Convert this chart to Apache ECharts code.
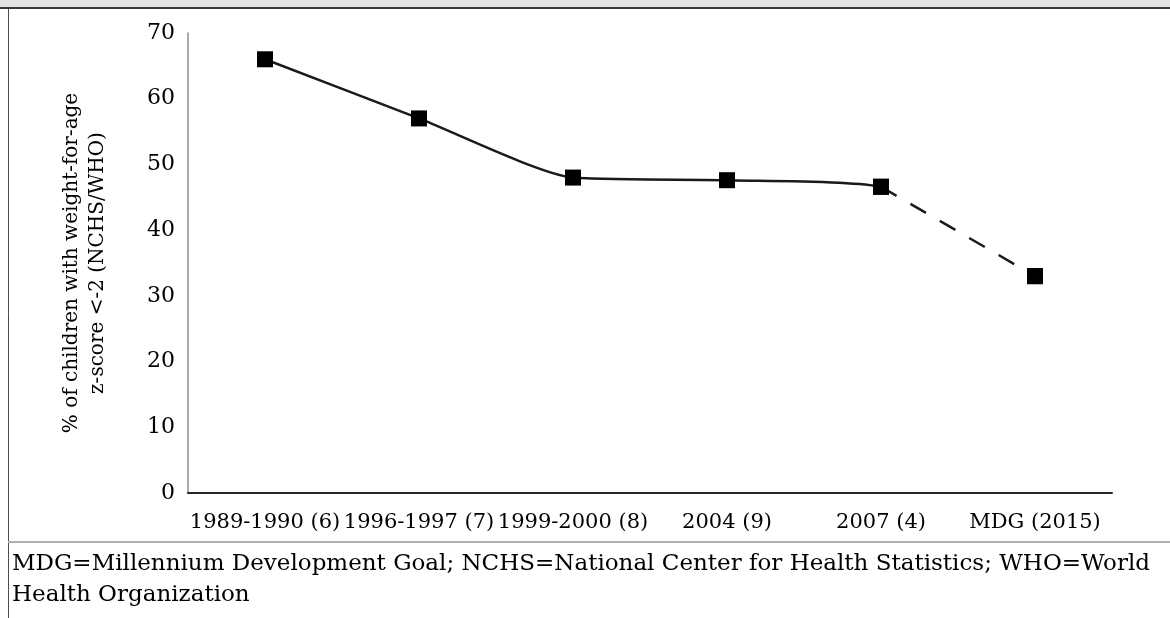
<!DOCTYPE html>
<html>
<head>
<meta charset="utf-8">
<script src="https://cdn.jsdelivr.net/npm/echarts@6/dist/echarts.min.js"></script>
<style>
html,body{margin:0;padding:0;background:#fff;}
#chart{width:1170px;height:618px;}
</style>
</head>
<body>
<div id="chart"></div>
<script>
// ---- data ----
const categories = ['1989-1990 (6)', '1996-1997 (7)', '1999-2000 (8)', '2004 (9)', '2007 (4)', 'MDG (2015)'];
const observed = [66, 57, 48, 47.6, 46.6];   // survey values
const mdgTarget = 33;                         // MDG 2015 goal
const yTicks = [0, 10, 20, 30, 40, 50, 60, 70];
const yTitle = ['% of children with weight-for-age', 'z-score <-2 (NCHS/WHO)'];
const footnote = ['MDG=Millennium Development Goal; NCHS=National Center for Health Statistics; WHO=World', 'Health Organization'];

// full smoothed curve; its stroke is visible only up to the last survey point
const allData = observed.concat([mdgTarget]);
const dashedData = categories.map((c, i) => {
  if (i === observed.length - 1) return observed[i];
  if (i === categories.length - 1) return mdgTarget;
  return '-';
});
const solidFrac = (observed.length - 1) / (allData.length - 1);

const FONT = 'DejaVu Serif';
const chart = echarts.init(document.getElementById('chart'), null, {renderer: 'canvas'});
chart.setOption({
  animation: false,
  backgroundColor: '#fff',
  grid: {left: 188, right: 58, top: 33, bottom: 125, containLabel: false},
  xAxis: {
    type: 'category',
    data: categories,
    boundaryGap: true,
    axisLine: {lineStyle: {color: '#262626', width: 2}},
    axisTick: {show: false},
    axisLabel: {color: '#000', fontFamily: FONT, fontSize: 21, margin: 19, interval: 0}
  },
  yAxis: {
    type: 'value',
    min: yTicks[0], max: yTicks[yTicks.length - 1], interval: 10,
    name: yTitle.join('\n'),
    nameLocation: 'middle',
    nameRotate: 90,
    nameGap: 77,
    nameTextStyle: {color: '#000', fontFamily: FONT, fontSize: 20, lineHeight: 26},
    axisLine: {show: true, lineStyle: {color: '#8c8c8c', width: 1.5}},
    axisTick: {show: false},
    splitLine: {show: false},
    axisLabel: {color: '#000', fontFamily: FONT, fontSize: 22, margin: 13}
  },
  series: [
    {
      type: 'line', data: allData, smooth: 0.2,
      symbol: 'rect', symbolSize: 16,
      itemStyle: {color: '#000'},
      lineStyle: {
        width: 2.5,
        color: {
          type: 'linear', x: 0, y: 0, x2: 1, y2: 0,
          colorStops: [
            {offset: 0, color: '#1a1a1a'},
            {offset: solidFrac, color: '#1a1a1a'},
            {offset: solidFrac, color: 'rgba(0,0,0,0)'},
            {offset: 1, color: 'rgba(0,0,0,0)'}
          ]
        }
      }
    },
    {
      type: 'line', data: dashedData, smooth: false, connectNulls: false,
      symbol: 'rect', symbolSize: 16,
      itemStyle: {color: '#000'},
      lineStyle: {color: '#1a1a1a', width: 2.5, type: [18, 16]}
    }
  ],
  graphic: [
    {type: 'rect', shape: {x: 0, y: 0, width: 1170, height: 7}, style: {fill: '#e4e4e4'}, silent: true},
    {type: 'line', shape: {x1: 0, y1: 8, x2: 1170, y2: 8}, style: {stroke: '#3a3a3a', lineWidth: 2}, silent: true},
    {type: 'line', shape: {x1: 8.5, y1: 9, x2: 8.5, y2: 618}, style: {stroke: '#4d4d4d', lineWidth: 1}, silent: true},
    {type: 'line', shape: {x1: 8, y1: 542, x2: 1170, y2: 542}, style: {stroke: '#b0b0b0', lineWidth: 2}, silent: true},
    {type: 'text', left: 12, top: 553, style: {text: footnote[0], font: '23px "DejaVu Serif"', fill: '#000'}, silent: true},
    {type: 'text', left: 12, top: 584, style: {text: footnote[1], font: '23px "DejaVu Serif"', fill: '#000'}, silent: true}
  ]
});
</script>
</body>
</html>
